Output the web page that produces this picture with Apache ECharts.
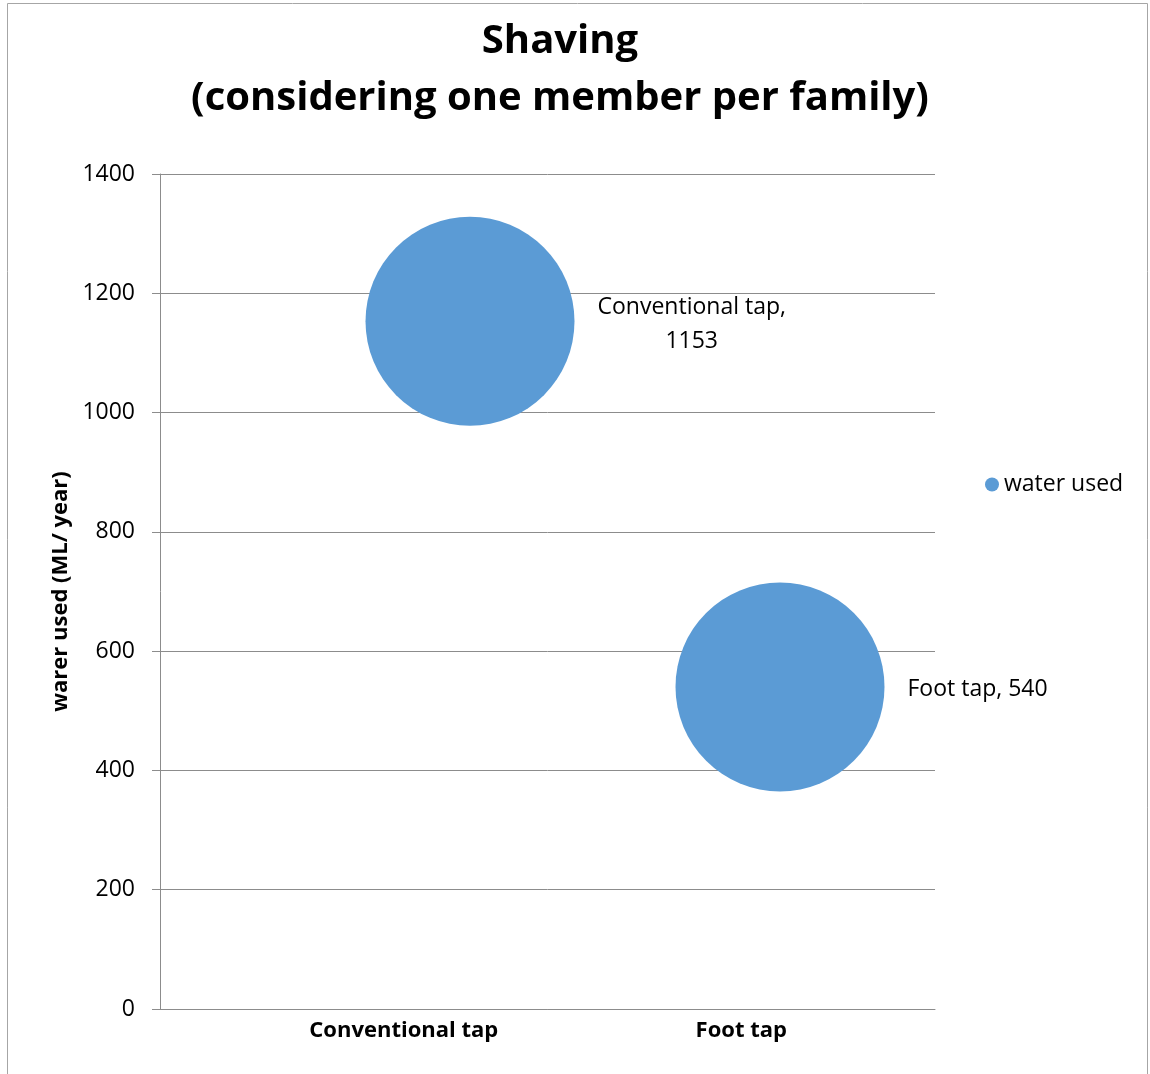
<!DOCTYPE html>
<html>
<head>
<meta charset="utf-8">
<script src="https://cdn.jsdelivr.net/npm/echarts@6/dist/echarts.min.js"></script>
<style>
  html, body { margin: 0; padding: 0; background: #fff; }
  #chart { width: 1150px; height: 1074px; }
</style>
</head>
<body>
<div id="chart"></div>
<script>
// Water used while shaving, one member per family
const categories = ['Conventional tap', 'Foot tap'];
const positions = [1, 2];           // bubble x positions
const waterUsed = [1153, 540];      // ML / year
const bubbleSize = [209, 209];      // equal bubble weights
const yTicks = { min: 0, max: 1400, interval: 200 };

const FONT = 'Open Sans';
const GRID_COLOR = '#8c8c8c';

const chart = echarts.init(document.getElementById('chart'), null, { renderer: 'canvas' });

const bubbles = categories.map((name, i) => ({
  name: name,
  value: [positions[i], waterUsed[i]],
  symbolSize: bubbleSize[i]
}));

chart.setOption({
  animation: false,
  backgroundColor: '#ffffff',
  textStyle: { fontFamily: FONT },
  title: {
    text: 'Shaving\n(considering one member per family)',
    left: 555,
    textAlign: 'center',
    top: 8,
    textStyle: {
      fontFamily: FONT,
      fontWeight: 'bold',
      fontSize: 40,
      lineHeight: 57,
      color: '#000'
    }
  },
  legend: {
    left: 980,
    top: 468,
    icon: 'circle',
    itemWidth: 14,
    itemHeight: 14,
    textStyle: { fontFamily: FONT, fontSize: 23, color: '#000' },
    data: ['water used']
  },
  grid: { left: 160, right: 215, top: 174, bottom: 65 },
  xAxis: [
    {
      type: 'value',
      min: 0,
      max: 2.5,
      show: false
    },
    {
      type: 'category',
      position: 'bottom',
      data: categories,
      boundaryGap: true,
      axisLine: { show: true, lineStyle: { color: GRID_COLOR, width: 1 } },
      axisTick: { show: false },
      splitLine: { show: false },
      axisLabel: {
        margin: 11,
        fontFamily: FONT,
        fontSize: 22,
        fontWeight: 'bold',
        color: '#000',
        formatter: (v, i) => i === 0 ? '{s|' + v + '}' : '{n|' + v + '}',
        rich: {
          s: { fontFamily: FONT, fontSize: 22, fontWeight: 'bold', color: '#000', padding: [0, 0, 0, 100] },
          n: { fontFamily: FONT, fontSize: 22, fontWeight: 'bold', color: '#000' }
        }
      }
    }
  ],
  yAxis: {
    type: 'value',
    min: yTicks.min,
    max: yTicks.max,
    interval: yTicks.interval,
    name: 'warer used (ML/ year)',
    nameLocation: 'middle',
    nameGap: 88,
    nameRotate: 90,
    nameTextStyle: { fontFamily: FONT, fontSize: 22, fontWeight: 'bold', color: '#000' },
    axisLine: { show: true, lineStyle: { color: GRID_COLOR, width: 1 } },
    axisTick: { show: true, length: 8, lineStyle: { color: GRID_COLOR } },
    splitLine: { show: true, lineStyle: { color: GRID_COLOR, width: 1 } },
    axisLabel: {
      margin: 25,
      fontFamily: FONT,
      fontSize: 23,
      color: '#000',
      formatter: v => String(v)
    }
  },
  series: [
    {
      name: 'water used',
      type: 'scatter',
      xAxisIndex: 0,
      yAxisIndex: 0,
      symbol: 'circle',
      itemStyle: { color: '#5B9BD5', opacity: 1 },
      data: bubbles,
      label: {
        show: true,
        position: 'right',
        distance: 23,
        fontFamily: FONT,
        fontSize: 23,
        color: '#000',
        lineHeight: 34,
        align: 'center',
        formatter: p => {
          // the first label wraps onto two lines
          const sep = p.dataIndex === 0 ? '\n' : ' ';
          return p.name + ',' + sep + p.value[1];
        }
      },
      labelLayout: p => ({
        // keep labels just right of each bubble, lines centred within the block
        x: p.rect.x + p.rect.width + 23 + p.labelRect.width / 2,
        y: p.rect.y + p.rect.height / 2 + 3,
        align: 'center',
        verticalAlign: 'middle'
      })
    }
  ],
  graphic: [
    {
      type: 'rect',
      silent: true,
      shape: { x: 7.5, y: 3.5, width: 1140, height: 1090 },
      style: { fill: 'none', stroke: '#a6a6a6', lineWidth: 1 }
    }
  ]
});
</script>
</body>
</html>
